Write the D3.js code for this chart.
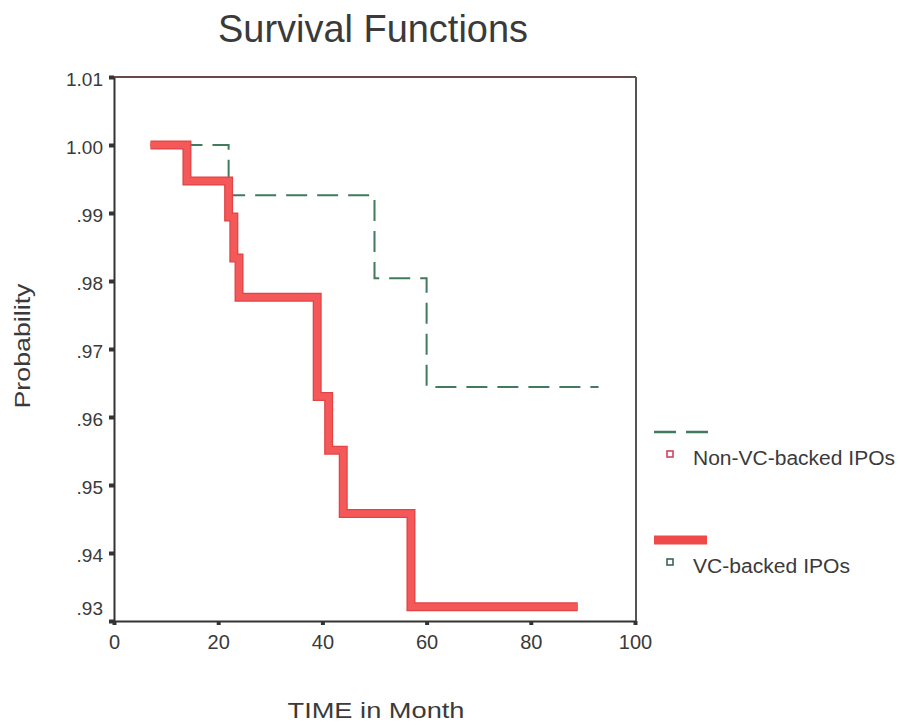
<!DOCTYPE html>
<html><head><meta charset="utf-8">
<script src="https://cdn.jsdelivr.net/npm/d3@7/dist/d3.min.js"></script>
<style>
html,body{margin:0;padding:0;background:#fff;}
text{font-family:"Liberation Sans",Arial,sans-serif;fill:#3a3a3a;}
</style></head>
<body>
<svg id="chart" width="900" height="726"></svg>
<script>
// ---- data ----
const vcTimes   = [7, 14, 22, 23, 24, 39, 41.2, 44, 57, 89];
const vcSurv    = [1.0, 0.9947, 0.9894, 0.9834, 0.9776, 0.9630, 0.9551, 0.9458, 0.9321, 0.9321];
const nonTimes  = [7, 22, 50, 60, 93];
const nonSurv   = [1.0, 0.9926, 0.9804, 0.9644, 0.9644];
const yTicks    = [1.01, 1.00, 0.99, 0.98, 0.97, 0.96, 0.95, 0.94, 0.93];
const yTickLabels = ["1.01", "1.00", ".99", ".98", ".97", ".96", ".95", ".94", ".93"];
const xTicks    = [0, 20, 40, 60, 80, 100];
const seriesNames = ["Non-VC-backed IPOs", "VC-backed IPOs"];

const svg = d3.select("#chart");
const L = 114, R = 635, T = 77, B = 621;
const x = d3.scaleLinear().domain([0, 100]).range([L, R]);
const y = d3.scaleLinear().domain([0.93, 1.01]).range([B, T]);

// plot frame: top & right
svg.append("line").attr("x1", L).attr("x2", R + 1).attr("y1", T).attr("y2", T)
  .attr("stroke", "#6a4a46").attr("stroke-width", 2);
svg.append("line").attr("x1", R + 1).attr("x2", R + 1).attr("y1", T).attr("y2", B)
  .attr("stroke", "#555").attr("stroke-width", 2);

// axes
const yAxis = svg.append("g").attr("transform", `translate(${L},0)`)
  .call(d3.axisLeft(y).tickValues(yTicks).tickSize(5).tickSizeOuter(0)
    .tickFormat((d, i) => yTickLabels[i]));
yAxis.select(".domain").attr("stroke", "#333").attr("stroke-width", 2);
yAxis.selectAll(".tick line").attr("stroke", "#333").attr("stroke-width", 4);
yAxis.selectAll(".tick text").attr("x", -11).attr("font-size", 19)
  .attr("fill", "#3a3a3a").attr("font-family", "Liberation Sans, Arial, sans-serif")
  .attr("dy", (d, i) => i === yTicks.length - 1 ? "-0.35em" : "0.45em");

const xAxis = svg.append("g").attr("transform", `translate(0,${B})`)
  .call(d3.axisBottom(x).tickValues(xTicks).tickSize(4).tickSizeOuter(0));
xAxis.select(".domain").attr("stroke", "#333").attr("stroke-width", 2);
xAxis.selectAll(".tick line").attr("stroke", "#333").attr("stroke-width", 4);
xAxis.selectAll(".tick text").attr("y", 14).attr("dy", "0.71em").attr("font-size", 20)
  .attr("fill", "#3a3a3a").attr("font-family", "Liberation Sans, Arial, sans-serif");

// step lines
const stepLine = d3.line().x(d => x(d[0])).y(d => y(d[1])).curve(d3.curveStepAfter);
const vcData = vcTimes.map((t, i) => [t, vcSurv[i]]);
const nonData = nonTimes.map((t, i) => [t, nonSurv[i]]);

svg.append("path").datum(nonData).attr("d", stepLine)
  .attr("fill", "none").attr("stroke", "#3f7b5c").attr("stroke-width", 2)
  .attr("stroke-dasharray", "21,10");

svg.append("path").datum(vcData).attr("d", stepLine)
  .attr("fill", "none").attr("stroke", "#e04444").attr("stroke-width", 9)
  .attr("stroke-linejoin", "miter");
svg.append("path").datum(vcData).attr("d", stepLine)
  .attr("fill", "none").attr("stroke", "#f55858").attr("stroke-width", 6.5)
  .attr("stroke-linejoin", "miter");

// legend
const lg = svg.append("g");
lg.append("line").attr("x1", 654).attr("x2", 708).attr("y1", 432).attr("y2", 432)
  .attr("stroke", "#3f7b5c").attr("stroke-width", 2.5).attr("stroke-dasharray", "22,10");
lg.append("rect").attr("x", 667).attr("y", 451).attr("width", 6).attr("height", 6)
  .attr("fill", "#fff").attr("stroke", "#d2435f").attr("stroke-width", 1.6);
lg.append("text").attr("x", 693).attr("y", 465).attr("font-size", 20)
  .attr("textLength", 202).attr("lengthAdjust", "spacingAndGlyphs").text(seriesNames[0]);

lg.append("line").attr("x1", 654).attr("x2", 707).attr("y1", 540).attr("y2", 540)
  .attr("stroke", "#ef4a4a").attr("stroke-width", 9);
lg.append("rect").attr("x", 667).attr("y", 559).attr("width", 6).attr("height", 6)
  .attr("fill", "#fff").attr("stroke", "#3a6650").attr("stroke-width", 1.6);
lg.append("text").attr("x", 693).attr("y", 573).attr("font-size", 20)
  .attr("textLength", 157).attr("lengthAdjust", "spacingAndGlyphs").text(seriesNames[1]);

// titles
svg.append("text").attr("x", 373).attr("y", 42).attr("text-anchor", "middle")
  .attr("font-size", 39).attr("fill", "#444")
  .attr("textLength", 310).attr("lengthAdjust", "spacingAndGlyphs").text("Survival Functions");
svg.append("text").attr("x", 376).attr("y", 718).attr("text-anchor", "middle")
  .attr("font-size", 22).attr("textLength", 177).attr("lengthAdjust", "spacingAndGlyphs")
  .text("TIME in Month");
svg.append("text").attr("transform", "translate(30,346) rotate(-90)").attr("text-anchor", "middle")
  .attr("font-size", 22).attr("textLength", 125).attr("lengthAdjust", "spacingAndGlyphs")
  .text("Probability");
</script>
</body></html>
